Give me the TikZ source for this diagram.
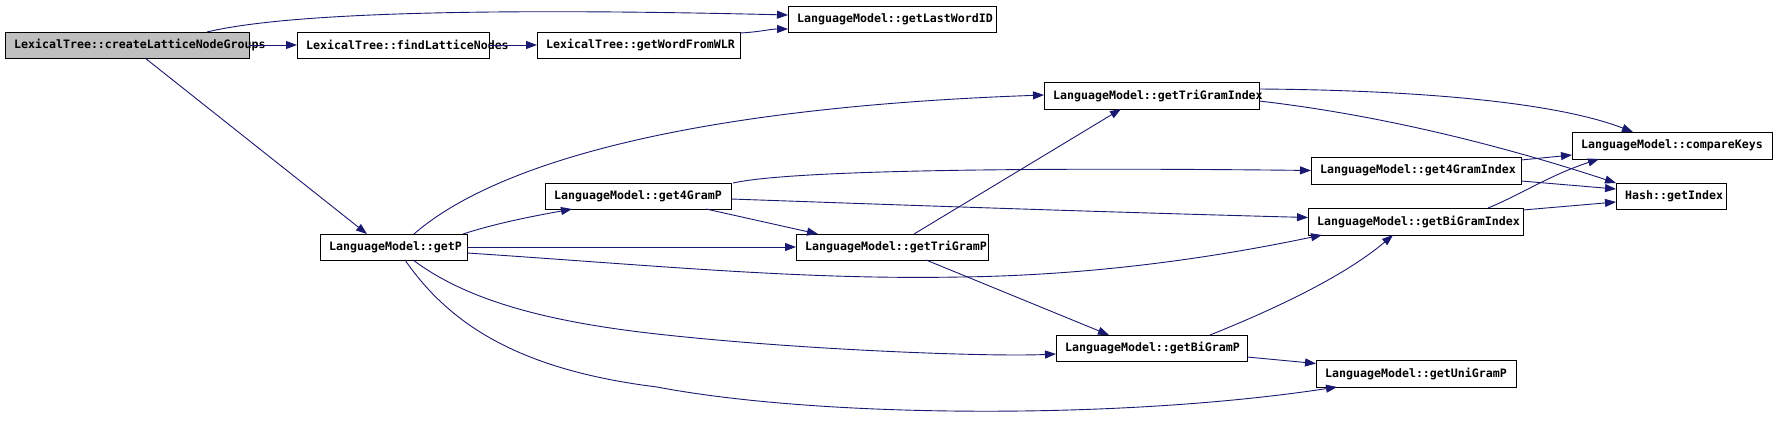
\documentclass[tikz,border=0pt]{standalone}
\usepackage{fontspec}
\newfontfamily\dxfont{DejaVu Sans Mono}
\usetikzlibrary{arrows.meta,calc}
\definecolor{edgeblue}{RGB}{25,25,112}
\definecolor{rootgray}{RGB}{191,191,191}
\newcommand{\dxnode}[6][]{%
  \node[fbox,minimum width=#5pt,#1] (#2) at (#3,#4) {};
  \node[lbl] (#2-t) at ($(#2.west)+(9,0)$) {#6};}
\begin{document}
\begin{tikzpicture}[x=1pt,y=-1pt,
  fbox/.style={draw=black,line width=0.8pt,fill=white,inner sep=0pt,outer sep=0pt,anchor=north west,minimum height=26pt},
  lbl/.style={anchor=west,inner sep=0pt,font=\dxfont\bfseries\fontsize{11.6}{12}\selectfont},
  edge/.style={draw=edgeblue,line width=0.9pt,-{Triangle[length=11pt,width=8pt]}}]
\useasboundingbox[fill=white] (0,0) rectangle (1776,436);
% nodes
\dxnode[fill=rootgray]{cLNG}{5}{32}{244}{LexicalTree::createLatticeNodeGroups}
\dxnode{fLN}{297}{32}{192}{LexicalTree::findLatticeNodes}
\dxnode{gWFW}{537}{32}{203}{LexicalTree::getWordFromWLR}
\dxnode{gLWID}{788}{6}{208}{LanguageModel::getLastWordID}
\dxnode{getP}{320}{234}{147}{LanguageModel::getP}
\dxnode{gFP}{545}{183}{186}{LanguageModel::get4GramP}
\dxnode{gTP}{796}{234}{192}{LanguageModel::getTriGramP}
\dxnode[minimum height=27pt]{gTGI}{1044}{82}{215}{LanguageModel::getTriGramIndex}
\dxnode[minimum height=27pt]{cK}{1572}{132}{200}{LanguageModel::compareKeys}
\dxnode[minimum height=27pt]{gFGI}{1311}{157}{210}{LanguageModel::get4GramIndex}
\dxnode{hGI}{1616}{183}{110}{Hash::getIndex}
\dxnode[minimum height=27pt]{gBGI}{1308}{208}{215}{LanguageModel::getBiGramIndex}
\dxnode{gBP}{1056}{335}{191}{LanguageModel::getBiGramP}
\dxnode[minimum height=27pt]{gUP}{1316}{360}{200}{LanguageModel::getUniGramP}
% edges
\draw[edge] ($(cLNG.north west)+(202,0)$) .. controls (290,12) and (500,8) .. ($(gLWID.north west)+(0,9)$);
\draw[edge] (cLNG.east) -- (fLN.west);
\draw[edge] (fLN.east) -- (gWFW.west);
\draw[edge] ($(gWFW.north east)+(0,1)$) .. controls (760,32) and (770,29) .. ($(gLWID.south west)+(0,-3)$);
\draw[edge] ($(cLNG.south west)+(140,0)$) -- ($(getP.north west)+(47,0)$);
\draw[edge] ($(getP.north west)+(94,0)$) .. controls (470,185) and (620,110) .. ($(gTGI.north west)+(0,13)$);
\draw[edge] ($(getP.north west)+(143,0)$) .. controls (500,222) and (540,215) .. ($(gFP.south west)+(27,0)$);
\draw[edge] (getP.east) -- (gTP.west);
\draw[edge] ($(getP.north east)+(0,19)$) .. controls (650,265) and (800,280) .. (960,277) .. controls (1120,275) and (1250,250) .. ($(gBGI.south west)+(14,0)$);
\draw[edge] ($(gFP.north east)+(2,0)$) .. controls (800,168) and (1100,168) .. (gFGI.west);
\draw[edge] ($(gFP.east)+(0,3)$) .. controls (900,205) and (1100,212) .. ($(gBGI.west)+(0,-4)$);
\draw[edge] ($(gFP.south west)+(161,0)$) -- ($(gTP.north west)+(22,0)$);
\draw[edge] ($(gTP.north west)+(118,0)$) -- ($(gTGI.south west)+(77,0)$);
\draw[edge] ($(gTP.south west)+(130,0)$) -- ($(gBP.north west)+(53,0)$);
\draw[edge] ($(getP.south west)+(93,0)$) .. controls (460,295) and (530,320) .. (657,334) .. controls (800,350) and (990,357) .. ($(gBP.west)+(0,6)$);
\draw[edge] ($(getP.south west)+(85,0)$) .. controls (450,325) and (520,370) .. (657,387) .. controls (820,418) and (1120,420) .. ($(gUP.south west)+(21,0)$);
\draw[edge] ($(gBP.north west)+(154,0)$) .. controls (1260,315) and (1340,280) .. ($(gBGI.south west)+(85,0)$);
\draw[edge] ($(gBP.east)+(0,9)$) -- ($(gUP.west)+(0,-10)$);
\draw[edge] ($(gTGI.north east)+(0,7)$) .. controls (1400,90) and (1550,100) .. ($(cK.north west)+(61,0)$);
\draw[edge] ($(gTGI.north east)+(0,19)$) .. controls (1380,115) and (1500,145) .. (hGI.north west);
\draw[edge] ($(gFGI.north east)+(0,3)$) -- ($(cK.south west)+(0,-4)$);
\draw[edge] ($(gFGI.south east)+(0,-3)$) -- ($(hGI.west)+(0,-7)$);
\draw[edge] ($(gBGI.north west)+(180,0)$) .. controls (1520,195) and (1550,175) .. ($(cK.south west)+(27,0)$);
\draw[edge] ($(gBGI.north east)+(0,2)$) -- ($(hGI.west)+(0,6)$);
\end{tikzpicture}
\end{document}
